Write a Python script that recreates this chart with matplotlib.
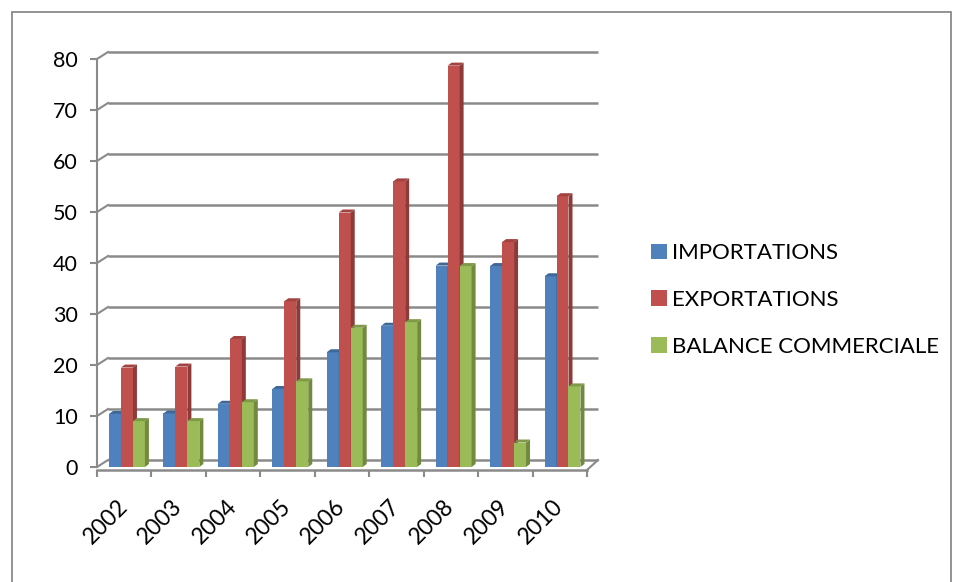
import numpy as np
import matplotlib
matplotlib.use("Agg")
import matplotlib.pyplot as plt
from matplotlib.patches import Polygon, Rectangle

plt.rcParams['font.family'] = ['Lato', 'DejaVu Sans']

years = ['2002', '2003', '2004', '2005', '2006', '2007', '2008', '2009', '2010']
importations = [10.4, 10.5, 12.4, 15.3, 22.5, 27.7, 39.5, 39.4, 37.4]
exportations = [19.5, 19.7, 25.1, 32.5, 49.9, 56.0, 78.7, 44.1, 53.1]
balance = [9.0, 9.0, 12.7, 16.8, 27.3, 28.4, 39.4, 4.8, 15.8]
series_names = ['IMPORTATIONS', 'EXPORTATIONS', 'BALANCE COMMERCIALE']

front_cols = ['#4F81BD', '#C0504D', '#9BBB59']
side_cols = ['#3A6090', '#8E3A38', '#72893F']
top_cols = ['#3E6898', '#A34341', '#7E9A48']
grid_col = '#8A8A8A'

W, H = 958, 582
fig = plt.figure(figsize=(W / 100, H / 100), dpi=100)
ax = fig.add_axes([97 / W, (H - 467) / H, (587 - 97) / W, (467 - 59) / H])
ax.set_xlim(-0.5, 8.5)
ax.set_ylim(0, 80)

# depth offsets (data units) for the pseudo 3D look
px_x = 1 / 54.4
px_y = 80 / 408
back_dx, back_dy = 11 * px_x, 7 * px_y
bar_dx, bar_dy = 4 * px_x, 3 * px_y

# back wall gridlines + connectors to the front axis
for v in range(0, 90, 10):
    ax.plot([-0.5 + back_dx, 8.5 + back_dx], [v + back_dy, v + back_dy],
            color=grid_col, lw=1.8, zorder=1, clip_on=False, solid_capstyle='butt')
    ax.plot([-0.5, -0.5 + back_dx], [v, v + back_dy],
            color=grid_col, lw=1.5, zorder=1, clip_on=False)
# floor right edge
ax.plot([8.5, 8.5 + back_dx], [-3 * px_y, back_dy], color=grid_col, lw=1.5,
        zorder=1, clip_on=False)

x = np.arange(len(years))
bw = 0.22
offs = [-0.17, 0.05, 0.27]
for k, vals in enumerate([importations, exportations, balance]):
    for i, v in enumerate(vals):
        x0 = x[i] + offs[k] - bw / 2
        x1 = x0 + bw
        z = 3 + k
        ax.add_patch(Rectangle((x0, 0), bw, v, facecolor=front_cols[k],
                               edgecolor='none', zorder=z, clip_on=False))
        ax.add_patch(Polygon([(x1, 0), (x1, v), (x1 + bar_dx, v + bar_dy),
                              (x1 + bar_dx, bar_dy)], closed=True,
                             facecolor=side_cols[k], edgecolor='none', zorder=z, clip_on=False))
        ax.add_patch(Polygon([(x0, v), (x1, v), (x1 + bar_dx, v + bar_dy),
                              (x0 + bar_dx, v + bar_dy)], closed=True,
                             facecolor=top_cols[k], edgecolor='none', zorder=z, clip_on=False))

for s in ['top', 'right']:
    ax.spines[s].set_visible(False)
ax.spines['left'].set_color(grid_col)
ax.spines['left'].set_linewidth(1.5)
ax.spines['bottom'].set_color(grid_col)
ax.spines['bottom'].set_linewidth(1.8)
ax.spines['bottom'].set_position(('outward', 2))

ax.set_yticks(np.arange(0, 90, 10))
ax.tick_params(axis='y', length=5, width=1.5, color=grid_col, labelsize=15.5, pad=9)
ax.set_xticks(x)
ax.set_xticklabels(years, rotation=45, ha='right', va='center', rotation_mode='anchor', fontsize=16.5)
ax.tick_params(axis='x', which='major', length=0, pad=24)
ax.set_xticks(np.arange(-0.5, 9, 1), minor=True)
ax.tick_params(axis='x', which='minor', length=5, width=1.5, color=grid_col)
ax.patch.set_visible(False)

handles = [Rectangle((0, 0), 1, 1, facecolor=c, edgecolor='none') for c in front_cols]
fig.legend(handles, series_names, loc='center left', bbox_to_anchor=(631 / W, (H - 300) / H),
           frameon=False, fontsize=16, handlelength=0.7, handleheight=0.7,
           handletextpad=0.25, labelspacing=1.2)

fig.add_artist(Rectangle((12 / W, -0.05), (951 - 12) / W, (H - 12) / H + 0.05,
                         transform=fig.transFigure, fill=False, edgecolor='#8A8A8A', lw=1.3))

fig.savefig('out.png', dpi=100)
